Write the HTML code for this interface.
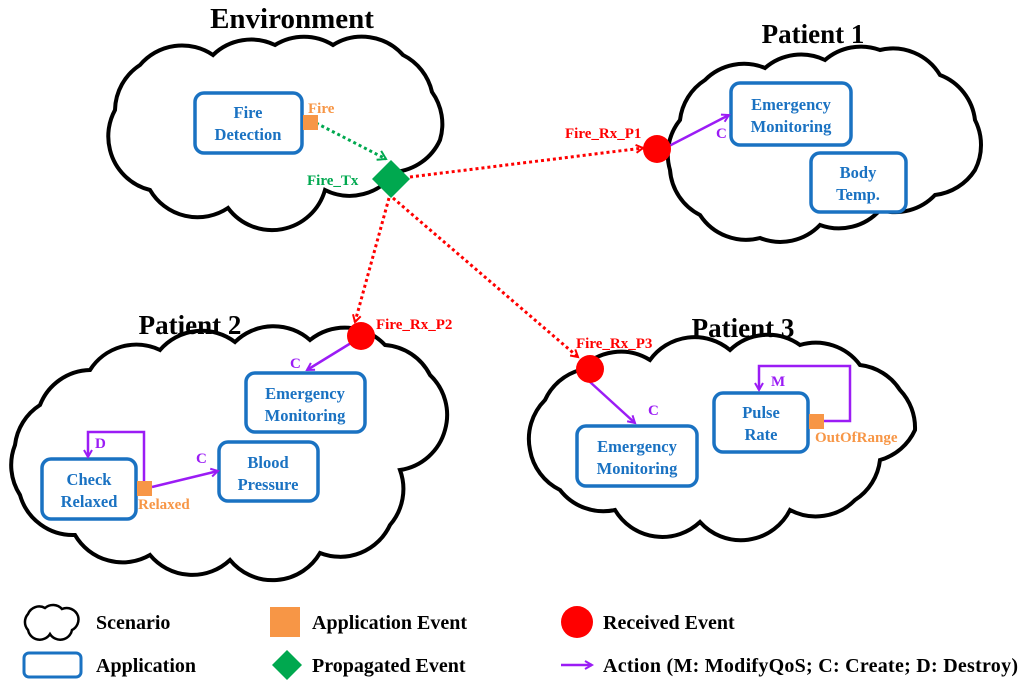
<!DOCTYPE html>
<html><head><meta charset="utf-8"><style>
html,body{margin:0;padding:0;background:#fff;width:1024px;height:686px;overflow:hidden}
svg text{font-family:"Liberation Serif",serif;font-weight:bold}
</style></head><body>
<svg width="1024" height="686" viewBox="0 0 1024 686" xmlns="http://www.w3.org/2000/svg">
<defs>
<marker id="pa" markerWidth="10" markerHeight="10" refX="8" refY="5" orient="auto" markerUnits="userSpaceOnUse"><path d="M1,1 L8,5 L1,9" fill="none" stroke="#9b1cf5" stroke-width="2"/></marker>
<marker id="ra" markerWidth="10" markerHeight="10" refX="8" refY="5" orient="auto" markerUnits="userSpaceOnUse"><path d="M1,1 L8,5 L1,9" fill="none" stroke="#f00" stroke-width="2"/></marker>
<marker id="ga" markerWidth="12" markerHeight="12" refX="9" refY="6" orient="auto" markerUnits="userSpaceOnUse"><path d="M1,1 L9,6 L1,11" fill="none" stroke="#00a84f" stroke-width="2"/></marker>
</defs>
<g fill="#fff" stroke="#000" stroke-width="4">
<path d="M115,110 A55,55 0 0 1 140,65 A55,55 0 0 1 213,55 A55,55 0 0 1 275,45 A55,55 0 0 1 333,45 A55,55 0 0 1 403,55 A55,55 0 0 1 432,92 A55,55 0 0 1 440,140 A55,55 0 0 1 395,172 A55,55 0 0 1 325,190 A55,55 0 0 1 228,208 A55,55 0 0 1 150,190 A55,55 0 0 1 110,150 A55,55 0 0 1 115,110 Z"/>
<path d="M680,120 A55,55 0 0 1 705,80 A55,55 0 0 1 765,68 A55,55 0 0 1 825,60 A55,55 0 0 1 880,50 A55,55 0 0 1 940,75 A55,55 0 0 1 975,120 A55,55 0 0 1 975,170 A55,55 0 0 1 935,195 A55,55 0 0 1 880,210 A55,55 0 0 1 820,225 A55,55 0 0 1 760,238 A55,55 0 0 1 700,215 A55,55 0 0 1 670,170 A55,55 0 0 1 680,120 Z"/>
<path d="M40,405 A55,55 0 0 1 90,370 A55,55 0 0 1 160,350 A55,55 0 0 1 235,342 A55,55 0 0 1 310,340 A55,55 0 0 1 385,345 A55,55 0 0 1 430,375 A55,55 0 0 1 445,430 A55,55 0 0 1 400,470 A55,55 0 0 1 390,525 A55,55 0 0 1 320,553 A55,55 0 0 1 230,560 A55,55 0 0 1 150,555 A55,55 0 0 1 75,535 A55,55 0 0 1 20,495 A55,55 0 0 1 15,445 A55,55 0 0 1 40,405 Z"/>
<path d="M545,400 A55,55 0 0 1 580,370 A55,55 0 0 1 650,360 A55,55 0 0 1 730,350 A55,55 0 0 1 800,345 A55,55 0 0 1 860,365 A55,55 0 0 1 900,390 A55,55 0 0 1 915,430 A55,55 0 0 1 880,460 A55,55 0 0 1 855,500 A55,55 0 0 1 790,510 A55,55 0 0 1 700,522 A55,55 0 0 1 615,510 A55,55 0 0 1 560,490 A55,55 0 0 1 530,450 A55,55 0 0 1 545,400 Z"/>
</g>
<text x="292" y="28" font-size="29" text-anchor="middle">Environment</text>
<text x="813" y="43" font-size="27" text-anchor="middle">Patient 1</text>
<text x="190" y="334" font-size="27" text-anchor="middle">Patient 2</text>
<text x="743" y="337" font-size="27" text-anchor="middle">Patient 3</text>
<g fill="#fff" stroke="#1a72c2" stroke-width="3.5">
<rect x="195" y="93" width="107" height="60" rx="9"/>
<rect x="731" y="83" width="120" height="62" rx="9"/>
<rect x="811" y="153" width="95" height="59" rx="9"/>
<rect x="246" y="373" width="119" height="59" rx="9"/>
<rect x="42" y="459" width="94" height="60" rx="9"/>
<rect x="219" y="442" width="99" height="59" rx="9"/>
<rect x="577" y="426" width="120" height="60" rx="9"/>
<rect x="714" y="393" width="94" height="59" rx="9"/>
</g>
<g fill="#1a72c2" font-size="16.5" text-anchor="middle">
<text x="248" y="118">Fire</text><text x="248" y="140">Detection</text>
<text x="791" y="110">Emergency</text><text x="791" y="132">Monitoring</text>
<text x="858" y="178">Body</text><text x="858" y="200">Temp.</text>
<text x="305" y="399">Emergency</text><text x="305" y="421">Monitoring</text>
<text x="89" y="485">Check</text><text x="89" y="507">Relaxed</text>
<text x="268" y="468">Blood</text><text x="268" y="490">Pressure</text>
<text x="637" y="452">Emergency</text><text x="637" y="474">Monitoring</text>
<text x="761" y="418">Pulse</text><text x="761" y="440">Rate</text>
</g>
<g fill="none" stroke-width="3" stroke-dasharray="3,3">
<path d="M316,123 L386,159" stroke="#00a84f" marker-end="url(#ga)"/>
<path d="M410,177 L643,148" stroke="#f00" marker-end="url(#ra)"/>
<path d="M389,198 L355,322" stroke="#f00" marker-end="url(#ra)"/>
<path d="M393,198 L578,357" stroke="#f00" marker-end="url(#ra)"/>
</g>
<g fill="none" stroke="#9b1cf5" stroke-width="2.5">
<path d="M669,146 L729,115" marker-end="url(#pa)"/>
<path d="M351,343 L307,370" marker-end="url(#pa)"/>
<path d="M152,487 L218,471" marker-end="url(#pa)"/>
<path d="M144,482 L144,432 L88,432 L88,457" marker-end="url(#pa)"/>
<path d="M590,382 L635,423" marker-end="url(#pa)"/>
<path d="M822,421 L850,421 L850,366 L759,366 L759,390" marker-end="url(#pa)"/>
</g>
<g fill="#f79646">
<rect x="303" y="115" width="15" height="15"/>
<rect x="137" y="481" width="15" height="15"/>
<rect x="809" y="414" width="15" height="15"/>
</g>
<polygon points="391,160 410,179 391,198 372,179" fill="#00a84f"/>
<g fill="#f00">
<circle cx="657" cy="149" r="14"/>
<circle cx="361" cy="336" r="14"/>
<circle cx="590" cy="369" r="14"/>
</g>
<g font-size="15">
<text x="308" y="113" fill="#f79646">Fire</text>
<text x="307" y="185" fill="#00a84f">Fire_Tx</text>
<text x="565" y="138" fill="#f00">Fire_Rx_P1</text>
<text x="376" y="329" fill="#f00">Fire_Rx_P2</text>
<text x="576" y="348" fill="#f00">Fire_Rx_P3</text>
<text x="138" y="509" fill="#f79646">Relaxed</text>
<text x="815" y="442" fill="#f79646">OutOfRange</text>
<text x="716" y="138" fill="#9b1cf5">C</text>
<text x="290" y="368" fill="#9b1cf5">C</text>
<text x="196" y="463" fill="#9b1cf5">C</text>
<text x="95" y="448" fill="#9b1cf5">D</text>
<text x="648" y="415" fill="#9b1cf5">C</text>
<text x="771" y="386" fill="#9b1cf5">M</text>
</g>
<path d="M28,614 A12,12 0 0 1 45,608 A12,12 0 0 1 62,609 A12,12 0 0 1 78,616 A12,12 0 0 1 72,630 A12,12 0 0 1 50,634 A12,12 0 0 1 28,630 A12,12 0 0 1 28,614 Z" fill="#fff" stroke="#000" stroke-width="2.5"/>
<rect x="270" y="607" width="30" height="30" fill="#f79646"/>
<circle cx="577" cy="622" r="16" fill="#f00"/>
<rect x="24" y="653" width="57" height="24" rx="5" fill="#fff" stroke="#1a72c2" stroke-width="3"/>
<polygon points="287,650 302,665 287,680 272,665" fill="#00a84f"/>
<path d="M561,665 L592,665" stroke="#9b1cf5" stroke-width="2.5" marker-end="url(#pa)"/>
<g font-size="20" fill="#000">
<text x="96" y="629">Scenario</text>
<text x="312" y="629">Application Event</text>
<text x="603" y="629">Received Event</text>
<text x="96" y="672">Application</text>
<text x="312" y="672">Propagated Event</text>
<text x="603" y="672" textLength="415">Action (M: ModifyQoS; C: Create; D: Destroy)</text>
</g>
</svg>
</body></html>
